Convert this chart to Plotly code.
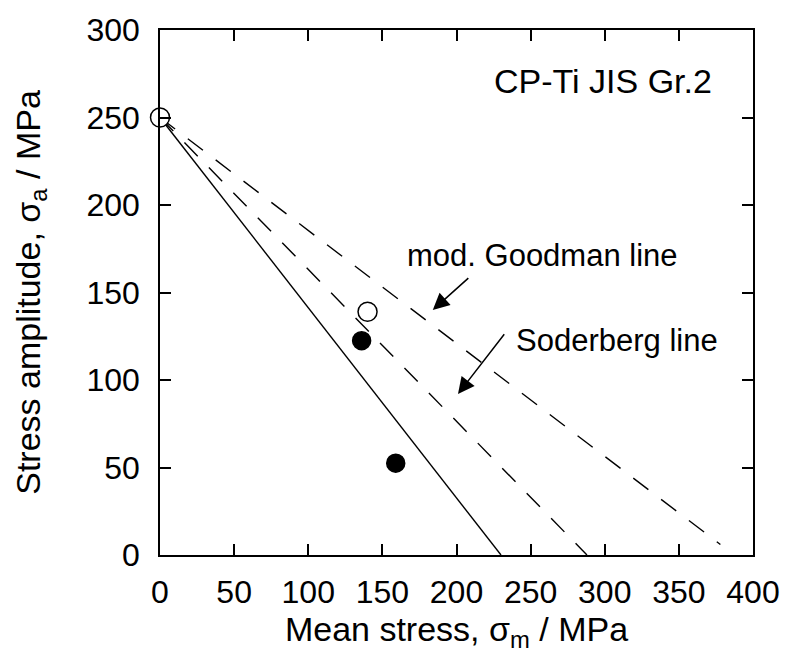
import plotly.graph_objects as go

# Data
open_x = [0, 140]
open_y = [250, 139]
filled_x = [136, 159]
filled_y = [122.5, 52.5]

fatigue_limit = 250
solid_end_x = 230          # solid line x-intercept
soderberg_end_x = 288      # Soderberg line x-intercept
goodman_end = (378, 6)     # visible end of mod. Goodman line

# Arrow pointers (tail -> tip), data coordinates
goodman_arrow_x = [209, 184]
goodman_arrow_y = [159, 140]
soderberg_arrow_x = [233, 201]
soderberg_arrow_y = [127, 92]

FONT = "Liberation Sans, Arial, sans-serif"

fig = go.Figure()

fig.add_trace(go.Scatter(x=[0, solid_end_x], y=[fatigue_limit, 0], mode="lines",
                         line=dict(color="black", width=1.4),
                         showlegend=False, hoverinfo="skip"))
fig.add_trace(go.Scatter(x=[0, soderberg_end_x], y=[fatigue_limit, 0], mode="lines",
                         line=dict(color="black", width=1.4, dash="19px,16px"),
                         showlegend=False, hoverinfo="skip"))
fig.add_trace(go.Scatter(x=[0, goodman_end[0]], y=[fatigue_limit, goodman_end[1]], mode="lines",
                         line=dict(color="black", width=1.4, dash="19px,16px"),
                         showlegend=False, hoverinfo="skip"))

fig.add_trace(go.Scatter(x=filled_x, y=filled_y, mode="markers",
                         marker=dict(symbol="circle", size=18, color="black",
                                     line=dict(color="black", width=1.5)),
                         showlegend=False, cliponaxis=False))
fig.add_trace(go.Scatter(x=open_x, y=open_y, mode="markers",
                         marker=dict(symbol="circle", size=19, color="white",
                                     line=dict(color="black", width=1.5)),
                         showlegend=False, cliponaxis=False))

axis_common = dict(
    showgrid=False, zeroline=False, showline=True, linecolor="black", linewidth=1.5,
    mirror="allticks", ticks="inside", ticklen=11, tickwidth=1.5, tickcolor="black",
    tickfont=dict(family=FONT, size=32, color="black"),
)

fig.update_xaxes(range=[0, 400], tickvals=list(range(0, 401, 50)),
                 title=dict(text="Mean stress, σ<sub>m</sub> / MPa",
                            font=dict(family=FONT, size=34, color="black"), standoff=8),
                 ticklabelstandoff=8, **axis_common)
fig.update_yaxes(range=[0, 300], tickvals=list(range(0, 301, 50)),
                 title=dict(text="Stress amplitude, σ<sub>a</sub> / MPa",
                            font=dict(family=FONT, size=34, color="black"), standoff=36),
                 ticklabelstandoff=12, **axis_common)

ann_font = dict(family=FONT, size=31, color="black")
annotations = [
    dict(x=373.5, y=271, xref="x", yref="y", text="CP-Ti JIS Gr.2", showarrow=False,
         xanchor="right", yanchor="middle", font=dict(family=FONT, size=34, color="black")),
    dict(x=165, y=171, xref="x", yref="y", text="mod. Goodman line", showarrow=False,
         xanchor="left", yanchor="middle", font=ann_font),
    dict(x=239, y=122.6, xref="x", yref="y", text="Soderberg line", showarrow=False,
         xanchor="left", yanchor="middle", font=ann_font),
]
for ax_, ay_ in [(goodman_arrow_x, goodman_arrow_y), (soderberg_arrow_x, soderberg_arrow_y)]:
    annotations.append(dict(
        x=ax_[1], y=ay_[1], ax=ax_[0], ay=ay_[0], xref="x", yref="y", axref="x", ayref="y",
        text="", showarrow=True, arrowhead=2, arrowsize=2.2, arrowwidth=1.5,
        arrowcolor="black"))

fig.update_layout(
    width=792, height=664,
    margin=dict(l=160, r=34, t=29, b=109),
    paper_bgcolor="white", plot_bgcolor="white",
    annotations=annotations,
    font=dict(family=FONT, color="black"),
)

fig.write_html("out.html")
